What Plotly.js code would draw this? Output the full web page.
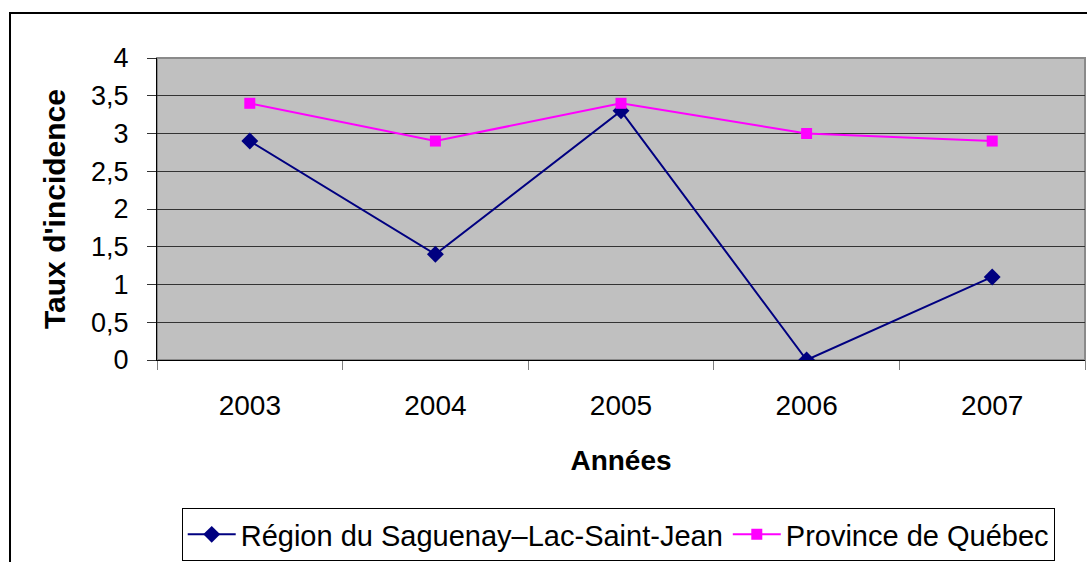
<!DOCTYPE html>
<html>
<head>
<meta charset="utf-8">
<script src="https://cdn.plot.ly/plotly-3.0.1.min.js"></script>
<style>
html,body{margin:0;padding:0;background:#fff;}
#chart{width:1087px;height:562px;}
</style>
</head>
<body>
<div id="chart"></div>
<script>
const years = ['2003', '2004', '2005', '2006', '2007'];
const saguenay = [2.9, 1.4, 3.3, 0, 1.1];
const quebec = [3.4, 2.9, 3.4, 3.0, 2.9];
const seriesNames = ['Région du Saguenay–Lac-Saint-Jean', 'Province de Québec'];
const xTitle = 'Années';
const yTitle = "Taux d'incidence";

const FONT = 'Liberation Sans, Arial, sans-serif';

const traces = [
  {
    x: years, y: saguenay, name: seriesNames[0], type: 'scatter', mode: 'lines+markers',
    line: {color: '#000080', width: 2},
    marker: {symbol: 'diamond', size: 13, color: '#000080'}
  },
  {
    x: years, y: quebec, name: seriesNames[1], type: 'scatter', mode: 'lines+markers',
    line: {color: '#FF00FF', width: 2},
    marker: {symbol: 'square', size: 11, color: '#FF00FF'}
  }
];

const layout = {
  width: 1087, height: 562,
  margin: {l: 157, r: 2, t: 58, b: 202, autoexpand: false},
  paper_bgcolor: '#ffffff',
  plot_bgcolor: '#c0c0c0',
  separators: ', ',
  font: {family: FONT, color: '#000'},
  showlegend: true,
  xaxis: {
    type: 'category',
    automargin: false,
    range: [-0.5, 4.5],
    showgrid: false,
    zeroline: false,
    showline: true, linecolor: '#000', linewidth: 1,
    ticks: 'outside', tickson: 'boundaries', ticklen: 9, tickcolor: '#808080', tickwidth: 1,
    tickfont: {family: FONT, size: 28, color: '#000'},
    ticklabelstandoff: 20,
    title: {text: xTitle, font: {family: FONT, size: 28, color: '#000', weight: 'bold'}, standoff: 30}
  },
  yaxis: {
    automargin: false,
    range: [0, 4],
    dtick: 0.5, tick0: 0,
    showgrid: true, gridcolor: '#333333', gridwidth: 1,
    zeroline: false,
    showline: true, linecolor: '#000', linewidth: 1,
    ticks: 'outside', ticklen: 9, tickcolor: '#333', tickwidth: 1,
    tickfont: {family: FONT, size: 27, color: '#000'},
    ticklabelstandoff: 13,
    title: {text: yTitle, font: {family: FONT, size: 30, color: '#000', weight: 'bold'}, standoff: 16}
  },
  legend: {
    orientation: 'h',
    x: 0.497, xanchor: 'center',
    y: -0.49, yanchor: 'top',
    bgcolor: '#ffffff',
    bordercolor: '#000', borderwidth: 1,
    font: {family: FONT, size: 29, color: '#000'},
    itemwidth: 48,
    tracegroupgap: 0
  },
  shapes: [
    {type: 'rect', xref: 'paper', yref: 'paper', x0: 0, x1: 1, y0: 0, y1: 1,
     line: {color: '#8a8a8a', width: 2}, layer: 'below'},
    {type: 'rect', xref: 'paper', yref: 'paper', x0: -0.1584, x1: 1.05, y0: -0.8, y1: 1.149,
     line: {color: '#000', width: 2}, fillcolor: 'rgba(0,0,0,0)', layer: 'below'}
  ]
};

Plotly.newPlot('chart', traces, layout, {staticPlot: true, displayModeBar: false});
</script>
</body>
</html>
